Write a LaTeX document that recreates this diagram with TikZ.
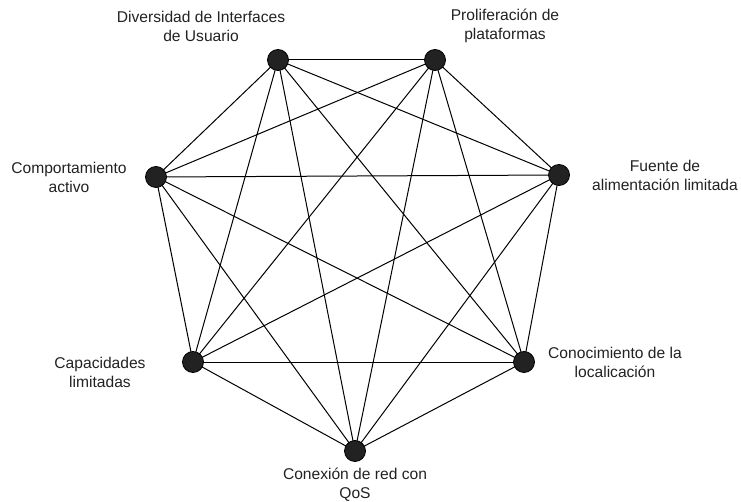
\documentclass[tikz,border=0pt]{standalone}
\usepackage{fontspec}
\setmainfont{Liberation Sans}
\usetikzlibrary{backgrounds}
\definecolor{ink}{HTML}{222222}
\begin{document}
\begin{tikzpicture}[x=1pt, y=-1pt,
  vertex/.style={circle, draw=black, fill=ink, line width=0.8pt, minimum size=21pt, inner sep=0pt},
  caption/.style={align=center, text=ink, font=\fontsize{15.6}{19}\selectfont, inner sep=0pt},
  link/.style={draw=black, line width=1pt}]
  \useasboundingbox (0,0) rectangle (741,502);

  % vertices of the heptagon
  \node[vertex] (ui)    at (278,60)  {};
  \node[vertex] (plat)  at (435,60)  {};
  \node[vertex] (power) at (559,175) {};
  \node[vertex] (loc)   at (524,362) {};
  \node[vertex] (qos)   at (355,451) {};
  \node[vertex] (cap)   at (193,362) {};
  \node[vertex] (act)   at (156,177) {};

  % captions
  \node[caption] (tui)    at (201,26)  {Diversidad de Interfaces\\de Usuario};
  \node[caption] (tplat)  at (505,26)  {Proliferación de\\plataformas};
  \node[caption] (tpower) at (665,175) {Fuente de\\alimentación limitada};
  \node[caption] (tloc)   at (615,362) {Conocimiento de la\\localicación};
  \node[caption] (tqos)   at (355,485) {Conexión de red con\\QoS};
  \node[caption] (tcap)   at (100,372) {Capacidades\\limitadas};
  \node[caption] (tact)   at (69,177)  {Comportamiento\\activo};

  % every pair of vertices is joined
  \begin{scope}[on background layer]
    \foreach \a/\b in {ui/plat, ui/power, ui/loc, ui/qos, ui/cap, ui/act,
                       plat/power, plat/loc, plat/qos, plat/cap, plat/act,
                       power/loc, power/qos, power/cap, power/act,
                       loc/qos, loc/cap, loc/act,
                       qos/cap, qos/act,
                       cap/act}
      \draw[link] (\a.center) -- (\b.center);
  \end{scope}
\end{tikzpicture}
\end{document}
